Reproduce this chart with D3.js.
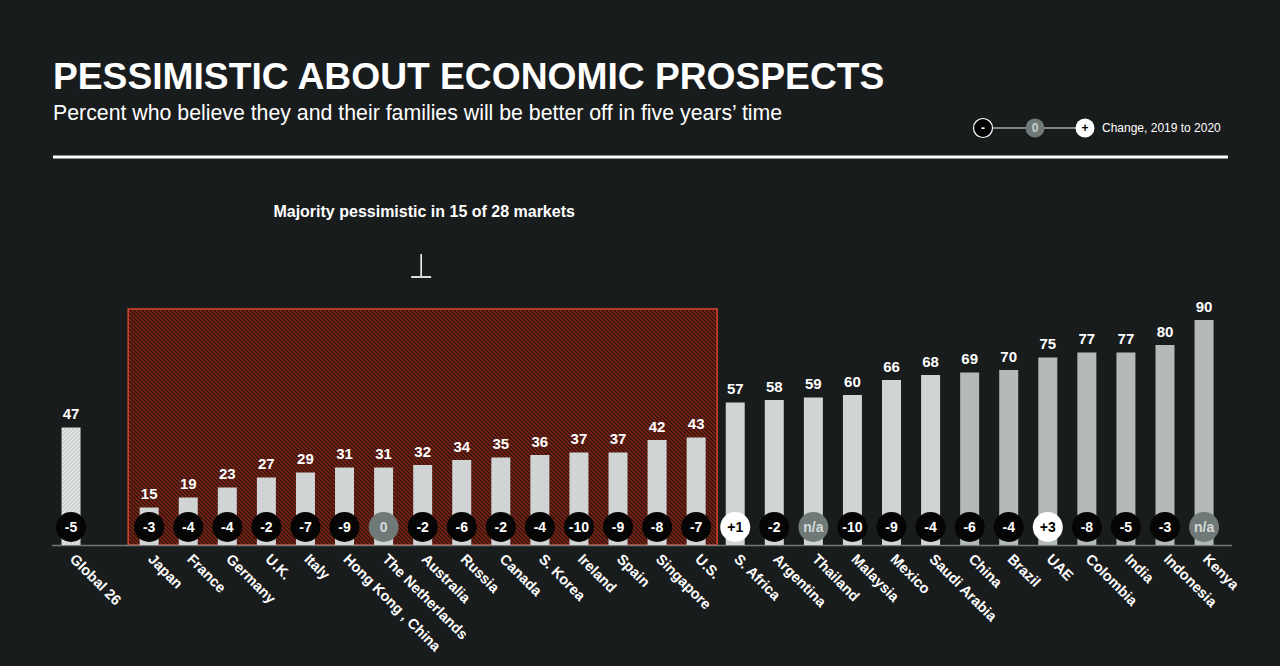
<!DOCTYPE html>
<html>
<head>
<meta charset="utf-8">
<script src="https://cdn.jsdelivr.net/npm/d3@7"></script>
<style>
  html, body { margin: 0; padding: 0; background: #191c1d; }
  svg { display: block; font-family: "Liberation Sans", Arial, sans-serif; }
</style>
</head>
<body>
<div id="chart-area"></div>
<script>
// data
var markets = ["Global 26", "Japan", "France", "Germany", "U.K.", "Italy", "Hong Kong , China",
  "The Netherlands", "Australia", "Russia", "Canada", "S. Korea", "Ireland", "Spain", "Singapore",
  "U.S.", "S. Africa", "Argentina", "Thailand", "Malaysia", "Mexico", "Saudi Arabia", "China",
  "Brazil", "UAE", "Colombia", "India", "Indonesia", "Kenya"];
var values = [47, 15, 19, 23, 27, 29, 31, 31, 32, 34, 35, 36, 37, 37, 42, 43,
  57, 58, 59, 60, 66, 68, 69, 70, 75, 77, 77, 80, 90];
var changes = ["-5", "-3", "-4", "-4", "-2", "-7", "-9", "0", "-2", "-6", "-2", "-4", "-10", "-9", "-8", "-7",
  "+1", "-2", "n/a", "-10", "-9", "-4", "-6", "-4", "+3", "-8", "-5", "-3", "n/a"];
var pessimisticCount = 15;

var W = 1280, H = 666;
var svg = d3.select("#chart-area").append("svg")
  .attr("width", W).attr("height", H);

svg.append("rect").attr("width", W).attr("height", H).attr("fill", "#191c1d");

var defs = svg.append("defs");
var redHatch = defs.append("pattern")
  .attr("id", "redHatch").attr("patternUnits", "userSpaceOnUse")
  .attr("width", 4).attr("height", 4);
redHatch.append("rect").attr("width", 4).attr("height", 4).attr("fill", "#7e2618");
redHatch.append("path").attr("d", "M-1,-1 L5,5 M-1,3 L1,5 M3,-1 L5,1")
  .attr("stroke", "#2e100b").attr("stroke-width", 1.3);

var greyHatch = defs.append("pattern")
  .attr("id", "greyHatch").attr("patternUnits", "userSpaceOnUse")
  .attr("width", 4).attr("height", 4);
greyHatch.append("rect").attr("width", 4).attr("height", 4).attr("fill", "#c9cecf");
greyHatch.append("path").attr("d", "M-1,5 L5,-1 M-1,1 L1,-1 M3,5 L5,3")
  .attr("stroke", "#eef0f0").attr("stroke-width", 1.1);

// titles
svg.append("text").attr("x", 53).attr("y", 89)
  .attr("fill", "#fff").attr("font-size", "37.2px").attr("font-weight", "bold")
  .text("PESSIMISTIC ABOUT ECONOMIC PROSPECTS");
svg.append("text").attr("x", 53).attr("y", 120)
  .attr("fill", "#fff").attr("font-size", "21.3px")
  .text("Percent who believe they and their families will be better off in five years\u2019 time");
svg.append("line").attr("x1", 53).attr("x2", 1228).attr("y1", 157).attr("y2", 157)
  .attr("stroke", "#fff").attr("stroke-width", 3);

// legend
var lg = svg.append("g");
lg.append("line").attr("x1", 983).attr("x2", 1085).attr("y1", 128).attr("y2", 128)
  .attr("stroke", "#aaa").attr("stroke-width", 1.5);
var legendItems = [
  { x: 983, fill: "#000", stroke: "#fff", text: "-", color: "#fff" },
  { x: 1035, fill: "#6f7a78", stroke: "none", text: "0", color: "#c8cccc" },
  { x: 1085, fill: "#fff", stroke: "none", text: "+", color: "#000" }
];
legendItems.forEach(function(d) {
  lg.append("circle").attr("cx", d.x).attr("cy", 128).attr("r", 9.5)
    .attr("fill", d.fill).attr("stroke", d.stroke).attr("stroke-width", 1.2);
  lg.append("text").attr("x", d.x).attr("y", 132).attr("text-anchor", "middle")
    .attr("fill", d.color).attr("font-size", "12px").attr("font-weight", "bold").text(d.text);
});
lg.append("text").attr("x", 1102).attr("y", 132).attr("fill", "#fff")
  .attr("font-size", "12px").text("Change, 2019 to 2020");

// scales
var domain = [markets[0], "_gap"].concat(markets.slice(1));
var x = d3.scaleBand().domain(domain).range([51.5, 1223.6]).paddingInner(0.514).paddingOuter(0.257);
var y = d3.scaleLinear().domain([0, 100]).range([545, 295]);

// majority pessimistic box
var first = markets[1], last = markets[pessimisticCount];
var boxX0 = x(first) - 11.5, boxX1 = x(last) + x.bandwidth() + 11.5;
svg.append("rect")
  .attr("x", boxX0).attr("y", 309)
  .attr("width", boxX1 - boxX0).attr("height", y(0) - 309)
  .attr("fill", "url(#redHatch)")
  .attr("stroke", "#d8442f").attr("stroke-width", 1.5);

var cx = (boxX0 + boxX1) / 2;
svg.append("text").attr("x", cx + 1.5).attr("y", 217).attr("text-anchor", "middle")
  .attr("fill", "#fff").attr("font-size", "16px").attr("font-weight", "bold")
  .text("Majority pessimistic in " + pessimisticCount + " of " + (markets.length - 1) + " markets");
svg.append("line").attr("x1", cx - 1.5).attr("x2", cx - 1.5).attr("y1", 254).attr("y2", 277)
  .attr("stroke", "#fff").attr("stroke-width", 1.5);
svg.append("line").attr("x1", cx - 11.5).attr("x2", cx + 8.5).attr("y1", 277).attr("y2", 277)
  .attr("stroke", "#ddd").attr("stroke-width", 2);

// axis baseline
svg.append("line").attr("x1", 52).attr("x2", 1232).attr("y1", y(0) + 0.5).attr("y2", y(0) + 0.5)
  .attr("stroke", "#777").attr("stroke-width", 1.5);

var data = markets.map(function(m, i) {
  return { market: m, value: values[i], change: changes[i], i: i };
});

function barFill(d) {
  if (d.i === 0) return "url(#greyHatch)";
  return d.value >= 69 ? "#b4bab8" : "#d0d4d4";
}

var bars = svg.append("g").selectAll("g").data(data).enter().append("g");

bars.append("rect")
  .attr("x", function(d) { return x(d.market); })
  .attr("y", function(d) { return y(d.value); })
  .attr("width", x.bandwidth())
  .attr("height", function(d) { return y(0) - y(d.value); })
  .attr("fill", barFill);

bars.append("text")
  .attr("x", function(d) { return x(d.market) + x.bandwidth() / 2; })
  .attr("y", function(d) { return y(d.value) - 8.5; })
  .attr("text-anchor", "middle")
  .attr("fill", "#fff").attr("font-size", "15px").attr("font-weight", "bold")
  .text(function(d) { return d.value; });

function circleFill(c) {
  if (c.charAt(0) === "+") return "#fff";
  if (c === "0" || c === "n/a") return "#6f7a78";
  return "#050505";
}
function circleText(c) {
  if (c.charAt(0) === "+") return "#000";
  if (c === "0" || c === "n/a") return "#d5d9d9";
  return "#fff";
}

bars.append("circle")
  .attr("cx", function(d) { return x(d.market) + x.bandwidth() / 2; })
  .attr("cy", 527)
  .attr("r", 15)
  .attr("fill", function(d) { return circleFill(d.change); });

bars.append("text")
  .attr("x", function(d) { return x(d.market) + x.bandwidth() / 2; })
  .attr("y", 532)
  .attr("text-anchor", "middle")
  .attr("fill", function(d) { return circleText(d.change); })
  .attr("font-size", "14px").attr("font-weight", "bold")
  .text(function(d) { return d.change; });

// rotated market labels
bars.append("text")
  .attr("transform", function(d) {
    var px = x(d.market) + x.bandwidth() / 2 - 2;
    return "translate(" + px + ",560) rotate(45)";
  })
  .attr("fill", "#fff").attr("font-size", "14.5px").attr("font-weight", "bold")
  .text(function(d) { return d.market; });
</script>
</body>
</html>
